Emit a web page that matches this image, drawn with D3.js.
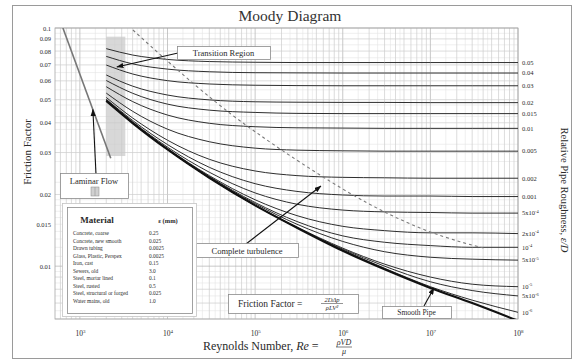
<!DOCTYPE html>
<html>
<head>
<meta charset="utf-8">
<script src="https://cdn.jsdelivr.net/npm/d3@7"></script>
<style>
  body { margin: 0; background: #fff; }
  svg { font-family: "Liberation Serif", "DejaVu Serif", serif; }
</style>
</head>
<body>
<svg id="chart" width="574" height="361"></svg>
<script>
// Reynolds numbers at which the friction factor curves were read
const reSamples = [2000, 4000, 1e4, 3e4, 1e5, 3e5, 1e6, 3e6, 1e7, 3e7, 1e8];

// friction factor per relative roughness, read at reSamples
const f_005   = [0.0819, 0.0770, 0.0738, 0.0723, 0.0718, 0.0716, 0.0716, 0.0716, 0.0716, 0.0716, 0.0716];
const f_004   = [0.0760, 0.0707, 0.0672, 0.0655, 0.0649, 0.0648, 0.0647, 0.0647, 0.0647, 0.0647, 0.0647];
const f_003   = [0.0699, 0.0641, 0.0601, 0.0582, 0.0575, 0.0573, 0.0572, 0.0572, 0.0572, 0.0572, 0.0572];
const f_002   = [0.0635, 0.0570, 0.0523, 0.0499, 0.0490, 0.0488, 0.0487, 0.0487, 0.0486, 0.0486, 0.0486];
const f_0015  = [0.0602, 0.0532, 0.0479, 0.0452, 0.0442, 0.0438, 0.0437, 0.0437, 0.0437, 0.0437, 0.0437];
const f_001   = [0.0567, 0.0491, 0.0431, 0.0398, 0.0385, 0.0381, 0.0380, 0.0379, 0.0379, 0.0379, 0.0379];
const f_0005  = [0.0533, 0.0447, 0.0376, 0.0333, 0.0313, 0.0307, 0.0305, 0.0304, 0.0304, 0.0304, 0.0304];
const f_0002  = [0.0511, 0.0419, 0.0338, 0.0281, 0.0251, 0.0240, 0.0236, 0.0235, 0.0234, 0.0234, 0.0234];
const f_0001  = [0.0502, 0.0409, 0.0324, 0.0260, 0.0222, 0.0206, 0.0199, 0.0197, 0.0197, 0.0196, 0.0196];
const f_5em4  = [0.0500, 0.0404, 0.0316, 0.0248, 0.0203, 0.0182, 0.0172, 0.0169, 0.0168, 0.0167, 0.0167];
const f_2em4  = [0.0497, 0.0401, 0.0312, 0.0240, 0.0190, 0.0163, 0.0147, 0.0141, 0.0138, 0.0138, 0.0137];
const f_1em4  = [0.0495, 0.0400, 0.0310, 0.0238, 0.0185, 0.0154, 0.0134, 0.0126, 0.0122, 0.0120, 0.0120];
const f_5em5  = [0.0494, 0.0399, 0.0310, 0.0236, 0.0183, 0.0150, 0.0127, 0.0115, 0.0109, 0.0107, 0.0106];
const f_1em5  = [0.0494, 0.0399, 0.0309, 0.0235, 0.0180, 0.0146, 0.0119, 0.0102, 0.0090, 0.0084, 0.0082];
const f_5em6  = [0.0494, 0.0399, 0.0309, 0.0235, 0.0180, 0.0145, 0.0118, 0.0100, 0.0086, 0.0079, 0.0075];
const f_1em6  = [0.0494, 0.0399, 0.0309, 0.0235, 0.0180, 0.0145, 0.0117, 0.0098, 0.0082, 0.0072, 0.0064];
const f_smooth = [0.0494, 0.0399, 0.0309, 0.0235, 0.0180, 0.0145, 0.0116, 0.0097, 0.0081, 0.0070, 0.0059];

const roughCurves = [f_005, f_004, f_003, f_002, f_0015, f_001, f_0005, f_0002, f_0001,
                     f_5em4, f_2em4, f_1em4, f_5em5, f_1em5, f_5em6, f_1em6];
// right hand labels: [mantissa text, exponent] (exponent null = plain number)
const roughLabels = [["0.05", null], ["0.04", null], ["0.03", null], ["0.02", null], ["0.015", null],
                     ["0.01", null], ["0.005", null], ["0.002", null], ["0.001", null],
                     ["5x10", "-4"], ["2x10", "-4"], ["10", "-4"], ["5x10", "-5"], ["10", "-5"],
                     ["5x10", "-6"], ["10", "-6"]];

// laminar flow, f = 64/Re
const laminarRe = [640, 2250];
const laminarF  = [0.1, 0.0284];

// dashed "complete turbulence" boundary
const dashRe = [4030, 7180, 21700, 55800, 113500, 230700, 7.94e5, 1.89e6, 3.84e6, 9.14e6, 2.23e7, 4.09e7];
const dashF  = [0.0981, 0.0808, 0.0565, 0.0427, 0.0355, 0.0296, 0.0221, 0.0184, 0.0161, 0.0140, 0.0126, 0.0119];

const transitionRe = [2000, 3300];

const yTicks = [0.1, 0.09, 0.08, 0.07, 0.06, 0.05, 0.04, 0.03, 0.02, 0.015, 0.01];
const xTicks = [1e3, 1e4, 1e5, 1e6, 1e7, 1e8];

const materials = ["Concrete, coarse", "Concrete, new smooth", "Drawn tubing", "Glass, Plastic, Perspex",
                   "Iron, cast", "Sewers, old", "Steel, mortar lined", "Steel, rusted",
                   "Steel, structural or forged", "Water mains, old"];
const materialEps = ["0.25", "0.025", "0.0025", "0.0025", "0.15", "3.0", "0.1", "0.5", "0.025", "1.0"];

const plot = { left: 55, right: 518, top: 28, bottom: 319 };
const ink = "#2a2a2a";

const svg = d3.select("#chart");
const x = d3.scaleLog().domain([520, 1e8]).range([plot.left, plot.right]);
const y = d3.scaleLog().domain([0.006, 0.1]).range([plot.bottom, plot.top]);

// outer frame
svg.append("rect").attr("x", 12.5).attr("y", 5.5).attr("width", 559).attr("height", 353)
  .attr("fill", "#fff").attr("stroke", "#9a9a9a");

const defs = svg.append("defs");
defs.append("clipPath").attr("id", "plotClip").append("rect")
  .attr("x", plot.left).attr("y", plot.top)
  .attr("width", plot.right - plot.left).attr("height", plot.bottom - plot.top);
defs.append("marker").attr("id", "arrow")
  .attr("viewBox", "0 0 8 6").attr("refX", 7.5).attr("refY", 3)
  .attr("markerWidth", 7).attr("markerHeight", 5.5).attr("markerUnits", "userSpaceOnUse")
  .attr("orient", "auto")
  .append("path").attr("d", "M0,0L8,3L0,6Z").attr("fill", "#111");

// grid
const grid = svg.append("g");
const xFine = [];
for (let e = 2; e < 8; e++) [1.5, 2.5, 3.5, 4.5].forEach(m => xFine.push(m * Math.pow(10, e)));
const yFine = [].concat(d3.range(0.0065, 0.01, 0.001), d3.range(0.011, 0.02, 0.001),
                        d3.range(0.0225, 0.05, 0.005), d3.range(0.055, 0.1, 0.01));

grid.selectAll(".xf").data(xFine.filter(v => v > 520)).join("line")
  .attr("x1", d => x(d)).attr("x2", d => x(d)).attr("y1", plot.top).attr("y2", plot.bottom)
  .attr("stroke", "#e4e4e4").attr("stroke-width", 0.6);
grid.selectAll(".yf").data(yFine).join("line")
  .attr("x1", plot.left).attr("x2", plot.right).attr("y1", d => y(d)).attr("y2", d => y(d))
  .attr("stroke", "#e4e4e4").attr("stroke-width", 0.6);
grid.selectAll(".xm").data(x.ticks()).join("line")
  .attr("x1", d => x(d)).attr("x2", d => x(d)).attr("y1", plot.top).attr("y2", plot.bottom)
  .attr("stroke", d => xTicks.includes(d) ? "#b0b0b0" : "#cdcdcd").attr("stroke-width", 0.7);
grid.selectAll(".ym").data(y.ticks()).join("line")
  .attr("x1", plot.left).attr("x2", plot.right).attr("y1", d => y(d)).attr("y2", d => y(d))
  .attr("stroke", d => [0.01, 0.1].includes(+d.toFixed(4)) ? "#b0b0b0" : "#cdcdcd").attr("stroke-width", 0.7);

// transition region band
svg.append("rect")
  .attr("x", x(transitionRe[0])).attr("width", x(transitionRe[1]) - x(transitionRe[0]))
  .attr("y", y(0.092)).attr("height", y(0.029) - y(0.092))
  .attr("fill", "#c8c8c8").attr("opacity", 0.7);

svg.append("rect").attr("x", plot.left).attr("y", plot.top)
  .attr("width", plot.right - plot.left).attr("height", plot.bottom - plot.top)
  .attr("fill", "none").attr("stroke", "#a8a8a8").attr("stroke-width", 0.8);

const curves = svg.append("g").attr("clip-path", "url(#plotClip)");
const line = d3.line().x(d => x(d[0])).y(d => y(d[1])).curve(d3.curveMonotoneX);

roughCurves.forEach(fs => {
  curves.append("path").datum(reSamples.map((r, i) => [r, fs[i]]))
    .attr("d", line).attr("fill", "none").attr("stroke", "#2e2e2e").attr("stroke-width", 1);
});
curves.append("path").datum(reSamples.map((r, i) => [r, f_smooth[i]]))
  .attr("d", line).attr("fill", "none").attr("stroke", "#111").attr("stroke-width", 2.2);

curves.append("path").datum(laminarRe.map((r, i) => [r, laminarF[i]]))
  .attr("d", d3.line().x(d => x(d[0])).y(d => y(d[1])))
  .attr("fill", "none").attr("stroke", "#777").attr("stroke-width", 1.6);

curves.append("path").datum(dashRe.map((r, i) => [r, dashF[i]]))
  .attr("d", d3.line().x(d => x(d[0])).y(d => y(d[1])).curve(d3.curveBasis))
  .attr("fill", "none").attr("stroke", "#7a7a7a").attr("stroke-width", 1.1)
  .attr("stroke-dasharray", "3,3");

// left axis
const yAxis = svg.append("g").attr("transform", `translate(${plot.left},0)`)
  .call(d3.axisLeft(y).tickValues(yTicks).tickSize(0).tickPadding(4).tickFormat(d => String(d)));
yAxis.select(".domain").remove();
yAxis.selectAll("text").attr("font-family", "Liberation Serif, serif").attr("font-size", 6.5).attr("fill", ink);

// bottom axis
const xAxis = svg.append("g").attr("transform", `translate(0,${plot.bottom})`)
  .call(d3.axisBottom(x).tickValues(xTicks).tickSize(0).tickPadding(12).tickFormat(""));
xAxis.select(".domain").remove();
xAxis.selectAll("text").attr("font-family", "Liberation Serif, serif").attr("font-size", 7.5).attr("fill", ink)
  .each(function (d) {
    const t = d3.select(this);
    t.append("tspan").text("10");
    t.append("tspan").attr("dy", -3).attr("font-size", 5).text(Math.round(Math.log10(d)));
  });

// right roughness labels
svg.append("g").selectAll("text").data(roughCurves).join("text")
  .attr("x", plot.right + 4).attr("y", d => y(Math.max(d[d.length - 1], 0.0062)))
  .attr("dy", "0.35em").attr("font-size", 6.5).attr("fill", ink)
  .each(function (d, i) {
    const t = d3.select(this);
    t.append("tspan").text(roughLabels[i][0]);
    if (roughLabels[i][1]) t.append("tspan").attr("dy", -2.5).attr("font-size", 4.5).text(roughLabels[i][1]);
  });

// titles
svg.append("text").attr("x", 290).attr("y", 21).attr("text-anchor", "middle")
  .attr("font-size", 15.5).attr("fill", "#333").text("Moody Diagram");
svg.append("text").attr("transform", "translate(31,152) rotate(-90)").attr("text-anchor", "middle")
  .attr("font-size", 11).attr("fill", ink).text("Friction Factor");
const rt = svg.append("text").attr("transform", "translate(561,190) rotate(90)").attr("text-anchor", "middle")
  .attr("font-size", 10.5).attr("fill", ink);
rt.append("tspan").text("Relative Pipe Roughness, ");
rt.append("tspan").attr("font-style", "italic").text("ε/D");

const xt = svg.append("text").attr("x", 203).attr("y", 350).attr("font-size", 12).attr("fill", ink);
xt.append("tspan").text("Reynolds Number, ");
xt.append("tspan").attr("font-style", "italic").text("Re");
xt.append("tspan").text(" = ");
const fracX = 344;
svg.append("text").attr("x", fracX).attr("y", 345).attr("text-anchor", "middle")
  .attr("font-size", 8).attr("font-style", "italic").attr("fill", ink).text("ρVD");
svg.append("line").attr("x1", fracX - 8).attr("x2", fracX + 8).attr("y1", 347).attr("y2", 347)
  .attr("stroke", ink).attr("stroke-width", 0.6);
svg.append("text").attr("x", fracX).attr("y", 354).attr("text-anchor", "middle")
  .attr("font-size", 8).attr("font-style", "italic").attr("fill", ink).text("μ");

// annotation helpers
function box(x0, y0, w, h) {
  return svg.append("rect").attr("x", x0 + 0.5).attr("y", y0 + 0.5).attr("width", w).attr("height", h)
    .attr("fill", "#fff").attr("stroke", "#8a8a8a").attr("stroke-width", 0.8);
}
function arrow(x0, y0, re, f) {
  svg.append("line").attr("x1", x0).attr("y1", y0).attr("x2", x(re)).attr("y2", y(f))
    .attr("stroke", "#111").attr("stroke-width", 1.1).attr("marker-end", "url(#arrow)");
}

// transition region
arrow(178, 53, 2640, 0.0686);
box(177, 46, 93, 13);
svg.append("text").attr("x", 223.5).attr("y", 56).attr("text-anchor", "middle")
  .attr("font-size", 8.5).attr("fill", ink).text("Transition Region");

// laminar flow
arrow(96, 174, 1407, 0.0455);
box(60, 173, 68, 25);
svg.append("text").attr("x", 94).attr("y", 183.5).attr("text-anchor", "middle")
  .attr("font-size", 8.5).attr("fill", ink).text("Laminar Flow");
svg.append("rect").attr("x", 91).attr("y", 187).attr("width", 8).attr("height", 9)
  .attr("fill", "#d0d0d0").attr("stroke", "#888").attr("stroke-width", 0.5);
svg.append("line").attr("x1", 95).attr("x2", 95).attr("y1", 187).attr("y2", 196)
  .attr("stroke", "#888").attr("stroke-width", 0.5);

// complete turbulence
arrow(246, 244, 5.64e5, 0.0217);
box(196, 243, 102, 14);
svg.append("text").attr("x", 247).attr("y", 253.5).attr("text-anchor", "middle")
  .attr("font-size", 8.5).attr("fill", ink).text("Complete turbulence");

// smooth pipe
arrow(424, 306, 1.1e7, 0.0081);
box(382, 306, 69, 12);
svg.append("text").attr("x", 416.5).attr("y", 314.5).attr("text-anchor", "middle")
  .attr("font-size", 7.5).attr("fill", ink).text("Smooth Pipe");

// friction factor definition
box(228, 294, 130, 19);
svg.append("text").attr("x", 238).attr("y", 306.5).attr("font-size", 9.5).attr("fill", ink)
  .text("Friction Factor =");
svg.append("text").attr("x", 332).attr("y", 302).attr("text-anchor", "middle")
  .attr("font-size", 6.5).attr("font-style", "italic").attr("fill", ink).text("2DΔp");
svg.append("line").attr("x1", 321).attr("x2", 343).attr("y1", 303.5).attr("y2", 303.5)
  .attr("stroke", ink).attr("stroke-width", 0.5);
svg.append("text").attr("x", 332).attr("y", 310).attr("text-anchor", "middle")
  .attr("font-size", 6.5).attr("font-style", "italic").attr("fill", ink).text("ρLV²");

// material table
svg.append("rect").attr("x", 62.5).attr("y", 203.5).attr("width", 134).attr("height", 113)
  .attr("fill", "#fff").attr("stroke", "#c4c4c4").attr("stroke-width", 0.8);
box(67, 207, 125, 106);
svg.append("text").attr("x", 97).attr("y", 223).attr("text-anchor", "middle")
  .attr("font-size", 9).attr("font-weight", "bold").attr("fill", ink).text("Material");
svg.append("text").attr("x", 168).attr("y", 223).attr("text-anchor", "middle")
  .attr("font-size", 6.5).attr("font-weight", "bold").attr("fill", ink).text("ε (mm)");
const rowY = d3.scaleLinear().domain([0, materials.length - 1]).range([235, 303]);
svg.append("g").selectAll("text").data(materials).join("text")
  .attr("x", 73).attr("y", (d, i) => rowY(i)).attr("font-size", 5.4).attr("fill", ink).text(d => d);
svg.append("g").selectAll("text").data(materialEps).join("text")
  .attr("x", 149).attr("y", (d, i) => rowY(i)).attr("font-size", 5.4).attr("fill", ink).text(d => d);
</script>
</body>
</html>
